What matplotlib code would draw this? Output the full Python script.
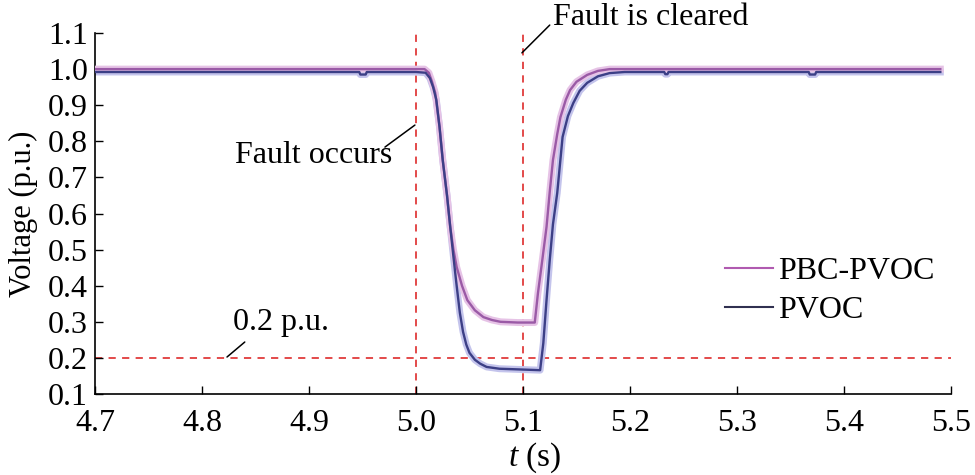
import matplotlib
matplotlib.use("Agg")
import matplotlib.pyplot as plt
from matplotlib.lines import Line2D

# voltage, PBC-PVOC
t_pbc = [4.70, 5.000, 5.008, 5.012, 5.015, 5.018, 5.022, 5.025, 5.029, 5.032, 5.035,
         5.038, 5.043, 5.048, 5.055, 5.063, 5.071, 5.079, 5.095, 5.111, 5.114, 5.118,
         5.122, 5.125, 5.128, 5.132, 5.135, 5.140, 5.144, 5.150, 5.160, 5.170, 5.181, 5.49]
v_pbc = [1.000, 1.000, 1.000, 0.990, 0.965, 0.934, 0.840, 0.748, 0.650, 0.563, 0.500,
         0.452, 0.400, 0.360, 0.332, 0.313, 0.305, 0.300, 0.298, 0.298, 0.380, 0.470,
         0.563, 0.660, 0.748, 0.820, 0.867, 0.915, 0.942, 0.965, 0.984, 0.995, 1.000, 1.000]

# voltage, PVOC
t_pvoc = [4.70, 4.947, 4.948, 4.953, 4.954, 5.000, 5.009, 5.013, 5.016, 5.019, 5.022,
          5.025, 5.029, 5.032, 5.035, 5.038, 5.041, 5.044, 5.047, 5.050, 5.055, 5.060,
          5.066, 5.078, 5.088, 5.116, 5.119, 5.122, 5.125, 5.128, 5.132, 5.137, 5.142,
          5.147, 5.153, 5.160, 5.170, 5.181, 5.195, 5.232, 5.233, 5.235, 5.236, 5.367,
          5.368, 5.373, 5.374, 5.49]
v_pvoc = [0.992, 0.992, 0.985, 0.985, 0.992, 0.992, 0.990, 0.975, 0.950, 0.915, 0.840,
          0.748, 0.650, 0.563, 0.480, 0.400, 0.325, 0.272, 0.237, 0.214, 0.195, 0.184,
          0.175, 0.170, 0.169, 0.166, 0.241, 0.360, 0.471, 0.570, 0.657, 0.812, 0.870,
          0.906, 0.940, 0.962, 0.980, 0.989, 0.992, 0.992, 0.986, 0.986, 0.992, 0.992,
          0.985, 0.985, 0.992, 0.992]

t_fault = 5.0
t_clear = 5.1
v_limit = 0.2

xticks = [4.7, 4.8, 4.9, 5.0, 5.1, 5.2, 5.3, 5.4, 5.5]
yticks = [0.1, 0.2, 0.3, 0.4, 0.5, 0.6, 0.7, 0.8, 0.9, 1.0, 1.1]

plt.rcParams['font.family'] = ['Liberation Serif', 'DejaVu Serif']
plt.rcParams['mathtext.fontset'] = 'custom'
plt.rcParams['mathtext.it'] = 'Liberation Serif:italic'
plt.rcParams['mathtext.rm'] = 'Liberation Serif'

fig = plt.figure(figsize=(9.75, 4.75), dpi=100)
ax = fig.add_axes([0.0974, 0.1705, 0.878, 0.76])

red = '#e03c3c'
dash = (0, (4, 3.5))
ax.axvline(t_fault, color=red, lw=1.3, ls=dash, zorder=1)
ax.axvline(t_clear, color=red, lw=1.3, ls=dash, zorder=1)
ax.axhline(v_limit, color=red, lw=1.3, ls=dash, zorder=1)

# thick pale halo under each trace, then the dark trace
ax.plot(t_pvoc, v_pvoc, color='#c4c4ec', lw=5, zorder=2)
ax.plot(t_pbc, v_pbc, color='#e6c3e6', lw=5, zorder=3)
ax.plot(t_pbc, v_pbc, color='#9a5aa6', lw=1.7, zorder=4)
ax.plot(t_pvoc, v_pvoc, color='#3c3f86', lw=1.7, zorder=5)

ax.set_xlim(4.7, 5.5)
ax.set_ylim(0.1, 1.1)
ax.set_xticks(xticks)
ax.set_yticks(yticks)
ax.set_xticklabels(['%.1f' % x for x in xticks])
ax.set_yticklabels(['%.1f' % y for y in yticks])
ax.tick_params(direction='in', length=6, width=1, labelsize=23)
ax.tick_params(axis='x', pad=11)
ax.tick_params(axis='y', pad=5)
for s in ['top', 'right']:
    ax.spines[s].set_visible(False)
for s in ['left', 'bottom']:
    ax.spines[s].set_linewidth(1.2)

ax.set_ylabel('Voltage (p.u.)', fontsize=22)
ax.yaxis.set_label_coords(-0.066, 0.5)
ax.set_xlabel('$t$ (s)', fontsize=24)
ax.xaxis.set_label_coords(0.514, -0.13)

# labels with short black leader lines
leader = dict(arrowstyle='-', color='black', lw=1.1, shrinkA=0, shrinkB=0)
ax.text(4.8308, 0.762, 'Fault occurs', fontsize=23, ha='left', va='center')
ax.annotate('', xy=(4.999, 0.845), xytext=(4.971, 0.784), arrowprops=leader)

ax.text(5.128, 1.144, 'Fault is cleared', fontsize=23, ha='left', va='center', clip_on=False)
ax.annotate('', xy=(5.099, 1.045), xytext=(5.125, 1.122), arrowprops=leader,
            annotation_clip=False)

ax.text(4.829, 0.297, '0.2 p.u.', fontsize=23, ha='left', va='center')
ax.annotate('', xy=(4.8234, 0.2025), xytext=(4.840, 0.244), arrowprops=leader)

handles = [Line2D([], [], color='#b05ab0', lw=1.5),
           Line2D([], [], color='#303050', lw=1.5)]
ax.legend(handles, ['PBC-PVOC', 'PVOC'], loc='upper left', bbox_to_anchor=(0.736, 0.381),
          frameon=False, fontsize=23, handlelength=1.5, handletextpad=0.15,
          labelspacing=0.3, borderaxespad=0, borderpad=0)

fig.savefig('out.png', dpi=100)
